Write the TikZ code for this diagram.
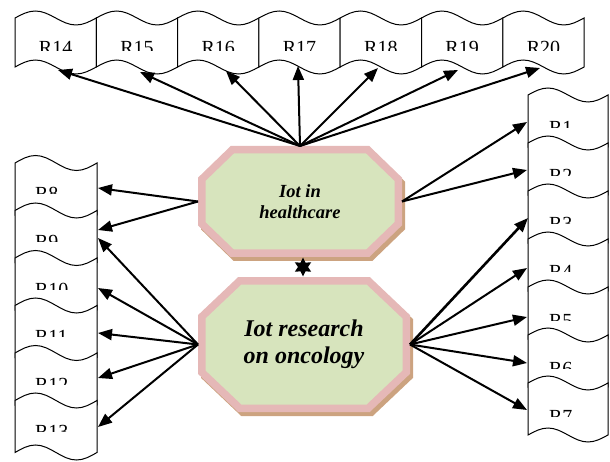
\documentclass[tikz,border=0pt]{standalone}
\usepackage{fontspec}
\setmainfont{Liberation Serif}
\usetikzlibrary{arrows.meta,calc,shapes.geometric,backgrounds}
\definecolor{pinkb}{RGB}{229,184,183}
\definecolor{greenf}{RGB}{215,228,189}
\definecolor{shadc}{RGB}{204,163,128}
\newcommand\wshape[5]{%
  \draw[wav] (#1,#3) sin ++(#2/4,-#5) cos ++(#2/4,#5) sin ++(#2/4,#5) cos ++(#2/4,-#5)
    -- ++(0,#4) sin ++(-#2/4,#5) cos ++(-#2/4,-#5) sin ++(-#2/4,-#5) cos ++(-#2/4,#5) -- cycle;}
\newcommand\wlabel[7]{% x0, w, cut y, name, anchor, position, text
  \begin{scope}
    \clip (#1,#3-40) rectangle (#1+#2,#3);
    \node[lbl,anchor=#5] (#4) at (#6) {#7};
  \end{scope}}
\newcommand\octo[3]{%
  ($(#1.north west)+(3.75+#2,3.75)$) -- ($(#1.north east)+(-3.75-#2,3.75)$)
  -- ($(#1.north east)+(-3.75,3.75+#3)$) -- ($(#1.south east)+(-3.75,-3.75-#3)$)
  -- ($(#1.south east)+(-3.75-#2,-3.75)$) -- ($(#1.south west)+(3.75+#2,-3.75)$)
  -- ($(#1.south west)+(3.75,-3.75-#3)$) -- ($(#1.north west)+(3.75,3.75+#3)$) -- cycle}
\tikzset{
  wav/.style={draw=black, fill=white, line width=1pt},
  lbl/.style={inner sep=0pt, outer sep=0pt, font=\fontsize{20}{24}\selectfont},
  octn/.style={inner sep=0pt, outer sep=3.75pt, align=center},
  arr/.style={line width=2pt, -{Triangle[length=14pt,width=11pt]}},
}
\begin{document}
\begin{tikzpicture}[x=1pt,y=-1pt]
\useasboundingbox (0,0) rectangle (610,462);
% top row
\foreach \i [evaluate=\i as \x using {15+81.3*(\i-14)}] in {14,...,20}{
  \wshape{\x}{81.3}{18}{49}{7}
  \wlabel{\x}{81.3}{51}{R\i}{base}{\x+40.65,55}{R\i}
}
% left column
\foreach \i [evaluate=\i as \y using {163+47.5*(\i-8)}] in {8,...,13}{
  \wshape{15}{82}{\y}{52}{7.5}
  \wlabel{15}{82}{\y+31}{R\i}{base west}{35,\y+38}{R\i}
}
% right column
\foreach \i [evaluate=\i as \y using {95+48*(\i-1)}] in {1,...,7}{
  \wshape{528}{80}{\y}{52}{7}
  \wlabel{528}{80}{\y+33}{R\i}{base west}{549,\y+40}{R\i}
}
% central nodes
\node[octn, minimum width=196.5pt, minimum height=103.5pt,
      font=\fontsize{18.5}{21}\selectfont\bfseries\itshape] (hc) at (300,201.5) {Iot in\\healthcare};
\node[octn, minimum width=204.5pt, minimum height=127.5pt,
      font=\fontsize{24}{27}\selectfont\bfseries\itshape] (onc) at (304,344.5) {Iot research\\on oncology};
\begin{scope}[on background layer]
  \filldraw[shadc, line width=7.5pt, transform canvas={xshift=3pt,yshift=-4pt}] \octo{hc}{30.5}{29.5};
  \filldraw[draw=pinkb, fill=greenf, line width=7.5pt] \octo{hc}{30.5}{29.5};
  \filldraw[shadc, line width=7.5pt, transform canvas={xshift=3pt,yshift=-4pt}] \octo{onc}{38}{36};
  \filldraw[draw=pinkb, fill=greenf, line width=7.5pt] \octo{onc}{38}{36};
\end{scope}
\node[star, star points=6, star point ratio=1.9, minimum size=19pt, inner sep=0pt, fill=black] (st) at (303,267) {};
% arrow targets
\coordinate (t14) at (58,70);  \coordinate (t15) at (140,72); \coordinate (t16) at (226,71);
\coordinate (t17) at (298,66); \coordinate (t18) at (378,68); \coordinate (t19) at (458,70);
\coordinate (t20) at (540,68);
\coordinate (l8) at (98,188);  \coordinate (l9a) at (98,230); \coordinate (l9b) at (98,238);
\coordinate (l10) at (98,288); \coordinate (l11) at (98,333); \coordinate (l12) at (98,378);
\coordinate (l13) at (98,427);
\coordinate (r1) at (527,122); \coordinate (r2) at (527,170); \coordinate (r3) at (528,218);
\coordinate (r4) at (527,268); \coordinate (r5) at (527,317); \coordinate (r6) at (527,363);
\coordinate (r7) at (527,410);
\foreach \t in {t14,t15,t16,t17,t18,t19,t20}{\draw[arr] (hc.north) -- (\t);}
\foreach \t in {l8,l9a}{\draw[arr] (hc.west) -- (\t);}
\foreach \t in {r1,r2}{\draw[arr] (hc.east) -- (\t);}
\foreach \t in {l9b,l10,l11,l12,l13}{\draw[arr] (onc.west) -- (\t);}
\foreach \t in {r4,r5,r6,r7}{\draw[arr] (onc.east) -- (\t);}
\draw[arr, line width=2.6pt] (onc.east) -- (r3);
\end{tikzpicture}
\end{document}
